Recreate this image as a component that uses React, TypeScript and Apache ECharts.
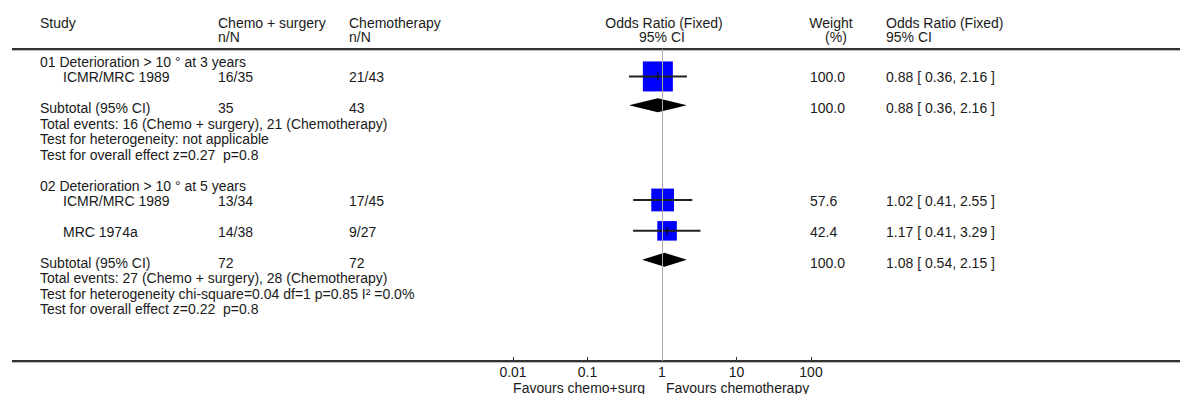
import React, { useEffect, useRef } from "react";
import * as echarts from "echarts";

// ---- data ----
const groupTitles = ["01 Deterioration > 10 ° at 3 years", "02 Deterioration > 10 ° at 5 years"];
const groupRows = [1, 9];

const studyNames = ["ICMR/MRC 1989", "ICMR/MRC 1989", "MRC 1974a"];
const studyRows = [2, 10, 12];
const studyTreat = ["16/35", "13/34", "14/38"];
const studyCtrl = ["21/43", "17/45", "9/27"];
const studyOR = [0.88, 1.02, 1.17];
const studyLo = [0.36, 0.41, 0.41];
const studyHi = [2.16, 2.55, 3.29];
const studyWeight = [100.0, 57.6, 42.4];

const subRows = [4, 14];
const subTreat = ["35", "72"];
const subCtrl = ["43", "72"];
const subOR = [0.88, 1.08];
const subLo = [0.36, 0.54];
const subHi = [2.16, 2.15];
const subWeight = [100.0, 100.0];

const noteRows = [5, 6, 7, 15, 16, 17];
const noteTexts = [
  "Total events: 16 (Chemo + surgery), 21 (Chemotherapy)",
  "Test for heterogeneity: not applicable",
  "Test for overall effect z=0.27  p=0.8",
  "Total events: 27 (Chemo + surgery), 28 (Chemotherapy)",
  "Test for heterogeneity chi-square=0.04 df=1 p=0.85 I\u00B2 =0.0%",
  "Test for overall effect z=0.22  p=0.8",
];

const tickLabels = ["0.01", "0.1", "1", "10", "100"];
const favourLeft = "Favours chemo+surg";
const favourRight = "Favours chemotherapy";

// ---- layout ----
const FAMILY = '"Liberation Sans", Arial, sans-serif';
const FONT = '14px ' + FAMILY;
const TXT = "#1a1a1a";
const COL_STUDY = 40;
const COL_NAME = 63;
const COL_T = 218;
const COL_C = 349;
const COL_W = 810;
const COL_OR = 886;

const fmtCI = (o: number, l: number, h: number) =>
  `${o.toFixed(2)} [ ${l.toFixed(2)}, ${h.toFixed(2)} ]`;

type Cell = { x: number; text: string; align?: string };
const textRows: { row: number; cells: Cell[] }[] = [];
groupTitles.forEach((t, i) => textRows.push({ row: groupRows[i], cells: [{ x: COL_STUDY, text: t }] }));
studyNames.forEach((n, i) =>
  textRows.push({
    row: studyRows[i],
    cells: [
      { x: COL_NAME, text: n },
      { x: COL_T, text: studyTreat[i] },
      { x: COL_C, text: studyCtrl[i] },
      { x: COL_W, text: studyWeight[i].toFixed(1) },
      { x: COL_OR, text: fmtCI(studyOR[i], studyLo[i], studyHi[i]) },
    ],
  })
);
subRows.forEach((r, i) =>
  textRows.push({
    row: r,
    cells: [
      { x: COL_STUDY, text: "Subtotal (95% CI)" },
      { x: COL_T, text: subTreat[i] },
      { x: COL_C, text: subCtrl[i] },
      { x: COL_W, text: subWeight[i].toFixed(1) },
      { x: COL_OR, text: fmtCI(subOR[i], subLo[i], subHi[i]) },
    ],
  })
);
noteRows.forEach((r, i) => textRows.push({ row: r, cells: [{ x: COL_STUDY, text: noteTexts[i] }] }));

const hText = (x: number, y: number, text: string, align = "left", lh = 14) => ({
  type: "text",
  x,
  y,
  silent: true,
  style: { text, font: FONT, fill: TXT, align, verticalAlign: "middle", lineHeight: lh },
});

export default function App() {
  const ref = useRef<HTMLDivElement>(null);
  useEffect(() => {
    document.body.style.margin = "0";
    const chart = echarts.init(ref.current!, null, { renderer: "svg" });
    const option: any = {
      animation: false,
      backgroundColor: "#fff",
      grid: { left: 513, right: 369, top: 49, bottom: 33 },
      xAxis: {
        type: "log",
        logBase: 10,
        min: 0.01,
        max: 100,
        axisLine: { show: false },
        axisTick: { show: true, inside: true, length: 4, lineStyle: { color: "#333", width: 1 } },
        axisLabel: {
          show: true,
          margin: 4,
          color: TXT,
          fontSize: 14,
          lineHeight: 13,
          fontFamily: FAMILY,
          formatter: (v: number) => tickLabels[Math.round(Math.log10(v)) + 2] ?? "",
        },
        splitLine: { show: false },
      },
      yAxis: { type: "value", inverse: true, min: 0.158, max: 20.365, show: false },
      graphic: [
        { type: "line", silent: true, shape: { x1: 12, y1: 49, x2: 1180, y2: 49 }, style: { stroke: "#333", lineWidth: 2 } },
        { type: "line", silent: true, shape: { x1: 12, y1: 50.5, x2: 1180, y2: 50.5 }, style: { stroke: "#bbb", lineWidth: 1 } },
        { type: "line", silent: true, shape: { x1: 12, y1: 361, x2: 1180, y2: 361 }, style: { stroke: "#333", lineWidth: 2 } },
        { type: "line", silent: true, shape: { x1: 12, y1: 362.5, x2: 1180, y2: 362.5 }, style: { stroke: "#bbb", lineWidth: 1 } },
        hText(COL_STUDY, 23, "Study"),
        hText(COL_T, 23, "Chemo + surgery"),
        hText(COL_T, 37, "n/N"),
        hText(COL_C, 23, "Chemotherapy"),
        hText(COL_C, 37, "n/N"),
        hText(664, 23, "Odds Ratio (Fixed)", "center"),
        hText(662, 37, "95% CI", "center"),
        hText(831, 23, "Weight", "center"),
        hText(836, 37, "(%)", "center"),
        hText(COL_OR, 23, "Odds Ratio (Fixed)"),
        hText(COL_OR, 37, "95% CI"),
        hText(645, 387.5, favourLeft, "right", 12),
        hText(666, 387.5, favourRight, "left", 12),
      ],
      series: [
        {
          type: "custom",
          name: "ref",
          data: [],
          renderItem: () => null,
          markLine: {
            silent: true,
            symbol: "none",
            label: { show: false },
            lineStyle: { color: "#aaa", width: 1, type: "solid" },
            data: [{ xAxis: 1 }],
          },
        },
        {
          type: "custom",
          name: "studies",
          clip: false,
          data: studyOR.map((o, i) => [o, studyLo[i], studyHi[i], studyWeight[i], studyRows[i]]),
          encode: { x: [0, 1, 2], y: 4 },
          renderItem: (params: any, api: any) => {
            const row = api.value(4);
            const p = api.coord([api.value(0), row]);
            const lo = api.coord([api.value(1), row]);
            const hi = api.coord([api.value(2), row]);
            const s = 3 * Math.sqrt(api.value(3));
            const y = p[1] - 1;
            return {
              type: "group",
              children: [
                { type: "rect", shape: { x: p[0] - s / 2, y: y - s / 2, width: s, height: s }, style: { fill: "#0000ff" } },
                { type: "line", shape: { x1: lo[0], y1: y, x2: hi[0], y2: y }, style: { stroke: "#222", lineWidth: 2 } },
                { type: "line", shape: { x1: p[0], y1: y - 4, x2: p[0], y2: y + 4 }, style: { stroke: "#000", lineWidth: 1 } },
              ],
            };
          },
        },
        {
          type: "custom",
          name: "subtotals",
          clip: false,
          data: subOR.map((o, i) => [o, subLo[i], subHi[i], subRows[i]]),
          encode: { x: [0, 1, 2], y: 3 },
          renderItem: (params: any, api: any) => {
            const row = api.value(3);
            const p = api.coord([api.value(0), row]);
            const lo = api.coord([api.value(1), row]);
            const hi = api.coord([api.value(2), row]);
            const y = p[1] - 3;
            return {
              type: "polygon",
              shape: { points: [[lo[0], y], [p[0], y - 7], [hi[0], y], [p[0], y + 7]] },
              style: { fill: "#000" },
            };
          },
        },
        {
          type: "custom",
          name: "table",
          clip: false,
          silent: true,
          data: textRows.map((r, i) => [1, r.row, i]),
          encode: { x: 0, y: 1 },
          renderItem: (params: any, api: any) => {
            const idx = api.value(2);
            const y = api.coord([1, api.value(1)])[1];
            return {
              type: "group",
              children: textRows[idx].cells.map((c) => ({
                type: "text",
                x: c.x,
                y,
                style: { text: c.text, font: FONT, fill: TXT, align: c.align || "left", verticalAlign: "middle", lineHeight: 14 },
              })),
            };
          },
        },
      ],
    };
    chart.setOption(option);
    return () => chart.dispose();
  }, []);
  return <div ref={ref} style={{ width: 1180, height: 394 }} />;
}
